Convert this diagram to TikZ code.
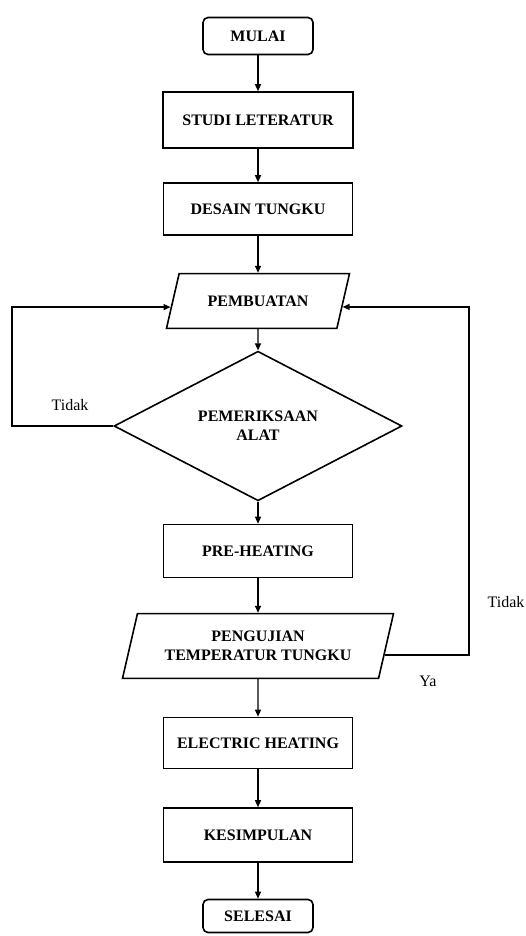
\documentclass[tikz,border=0pt]{standalone}
\usepackage{fontspec}
\setmainfont{Liberation Serif}
\usetikzlibrary{arrows.meta,shapes.geometric}
\tikzset{
	box/.style = 
    {
			draw,
			line width = 1.6pt,
			minimum width = 189pt,
			minimum height = 54pt,
			inner sep = 0pt,
			align = center,
			font = \bfseries\fontsize{16}{19}\selectfont
    },
	terminal/.style = {box, rounded corners=5pt, minimum width=110pt, minimum height=37pt},
	io/.style = 
    {
			box,
			trapezium,
			trapezium left angle = 77,
			trapezium right angle = 103,
			trapezium stretches body = true,
			minimum height = 0pt
    },
	decision/.style = {box, diamond, minimum width=288pt, minimum height=122pt},
	arr/.style = {-{Triangle[length=7pt,width=6pt]}, line width=1.3pt},
	label/.style = {font=\fontsize{16}{19}\selectfont}
}

\begin{document}
\begin{tikzpicture}[x=1pt, y=-1pt]
    \useasboundingbox (0,0) rectangle (525,936);
    % Nodes
    \node (mulai) [terminal] at (258,36) {MULAI};
    \node (studi) [below of=mulai, node distance=84pt, box, minimum width=190pt, minimum height=56pt] {STUDI LETERATUR};
    \node (desain) [below of=studi, node distance=89pt, box, minimum height=52pt] {DESAIN TUNGKU};
    \node (pembuatan) [below of=desain, node distance=92pt, io, minimum width=183pt, inner ysep=22pt] {PEMBUATAN};
    \node (periksa) [below of=pembuatan, node distance=125pt, decision] {PEMERIKSAAN\\ALAT};
    \node (preheat) [below of=periksa, node distance=125pt, box, minimum height=53pt] {PRE-HEATING};
    \node (uji) [below of=preheat, node distance=95pt, io, minimum width=271pt, inner ysep=17.5pt] {PENGUJIAN\\TEMPERATUR TUNGKU};
    \node (electric) [below of=uji, node distance=97pt, box, minimum height=51pt] {ELECTRIC HEATING};
    \node (kesimpulan) [below of=electric, node distance=92pt, box] {KESIMPULAN};
    \node (selesai) [below of=kesimpulan, node distance=81pt, terminal, minimum height=33pt] {SELESAI};

    \coordinate (kiri) at (12,0);
    \coordinate (kanan) at (469,0);

    \node (tidak-kiri) [label] at (70,405) {Tidak};
    \node (tidak-kanan) [label] at (506,602) {Tidak};
    \node (ya) [label] at (428,681) {Ya};

    % Arrows
    \draw [arr] (mulai) -- (studi);
    \draw [arr] (studi) -- (desain);
    \draw [arr] (desain) -- (pembuatan);
    \draw [arr] (pembuatan) -- (periksa);
    \draw [arr] (periksa) -- (preheat);
    \draw [arr] (preheat) -- (uji);
    \draw [arr] (uji) -- (electric);
    \draw [arr] (electric) -- (kesimpulan);
    \draw [arr] (kesimpulan) -- (selesai);

    \draw [arr] (periksa.west) -| (kiri |- pembuatan.184) -- (pembuatan.184);
    \draw [arr] (uji.356) -| (kanan |- pembuatan.356) -- (pembuatan.356);

\end{tikzpicture}
\end{document}
